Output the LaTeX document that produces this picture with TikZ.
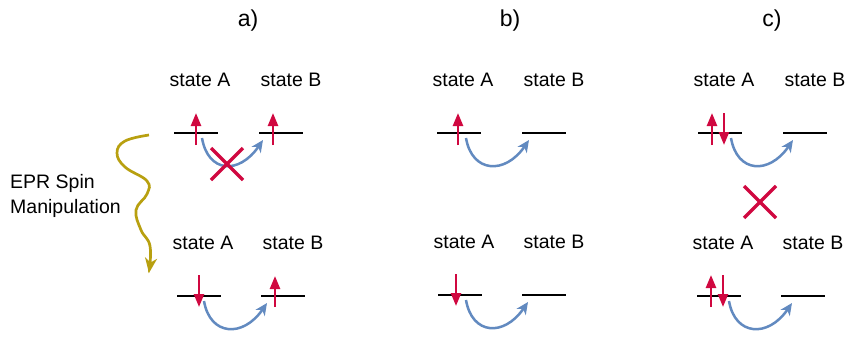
\documentclass[tikz,border=0pt]{standalone}
\usepackage{fontspec}
\setmainfont{Liberation Sans}
\usetikzlibrary{arrows.meta, calc}
\definecolor{cSpin}{RGB}{208,8,64}
\definecolor{cHop}{RGB}{98,138,192}
\definecolor{cWave}{RGB}{184,160,16}
\tikzset{
	level/.style ={line width=1.7pt, black},
	spin/.style  ={-{Triangle[length=13pt, width=10pt]}, line width=2.4pt, cSpin},
	hop/.style   ={-{Stealth[length=12pt, width=11pt, inset=3.5pt]}, line width=2.5pt, cHop},
	forbid/.style={line width=3.4pt, cSpin},
	wave/.style  ={-{Stealth[length=15pt, width=12pt, inset=4.5pt]}, line width=2.7pt, cWave},
	lbl/.style   ={font=\fontsize{19.5}{23}\selectfont, anchor=base, inner sep=0pt},
	ttl/.style   ={font=\fontsize{23}{27}\selectfont, inner sep=0pt},
}

\begin{document}
\begin{tikzpicture}[x=1pt, y=-1pt]
	\useasboundingbox (0,0) rectangle (846,338);
	% panel titles
	\node[ttl] (ta) at (248,21) {a)};
	\node[ttl] (tb) at (510,21) {b)};
	\node[ttl] (tc) at (772,21) {c)};
	% energy levels: row / x of state A / x of state B / y
	\foreach \p/\xa/\xb/\y in {a1/196/281/133, a2/199/283/296, b1/459/544/133, b2/460/544/295, c1/720/805/133, c2/719/803/296} {
		\coordinate (\p A) at (\xa,\y);
		\coordinate (\p B) at (\xb,\y);
		\draw[level] ($(\p A)+(-22,0)$) -- ($(\p A)+(22,0)$);
		\draw[level] ($(\p B)+(-22,0)$) -- ($(\p B)+(22,0)$);
		\node[lbl] (\p LA) at ($(\p A)+(4,-47)$) {state A};
		\node[lbl] (\p LB) at ($(\p B)+(10,-47)$) {state B};
	}
	% spins
	\foreach \c/\dx/\ya/\yb in {a1A/0/12/-20, a1B/-8/12/-20, a2A/0/-21/11, a2B/-8/11/-20, b1A/-1/12/-20, b2A/-4/-21/11, c1A/-8/12/-20, c1A/4/-20/12, c2A/-8/11/-21, c2A/4/-21/11}
		\draw[spin] ($(\c)+(\dx,\ya)$) -- ($(\c)+(\dx,\yb)$);
	% electron hopping A -> B
	\foreach \p/\sx/\ex in {a1/6/-18, a2/5/-16, b1/7/-15, b2/6/-16, c1/11/-12, c2/10/-11}
		\draw[hop] ($(\p A)+(\sx,5)$) .. controls ($(\p A)+(\sx+6,40)$) and ($(\p B)+(\ex-24,42)$) .. ($(\p B)+(\ex,7)$);
	% forbidden transfers
	\coordinate (aX) at (227,164);
	\coordinate (cX) at (760,202);
	\foreach \x in {aX, cX} {
		\draw[forbid] ($(\x)+(-16,-16)$) -- ($(\x)+(16,16)$);
		\draw[forbid] ($(\x)+(-16,16)$) -- ($(\x)+(16,-16)$);
	}
	% spin manipulation
	\node[lbl, anchor=base west] (epr1) at (10,188) {EPR Spin};
	\node[lbl, anchor=base west] (epr2) at (10,213) {Manipulation};
	\draw[wave] plot[smooth, tension=0.7] coordinates {(149,135) (125,141) (117,153) (125,167) (147,181) (147,194) (136,210) (141,230) (150,246) (149,273)};
\end{tikzpicture}
\end{document}
